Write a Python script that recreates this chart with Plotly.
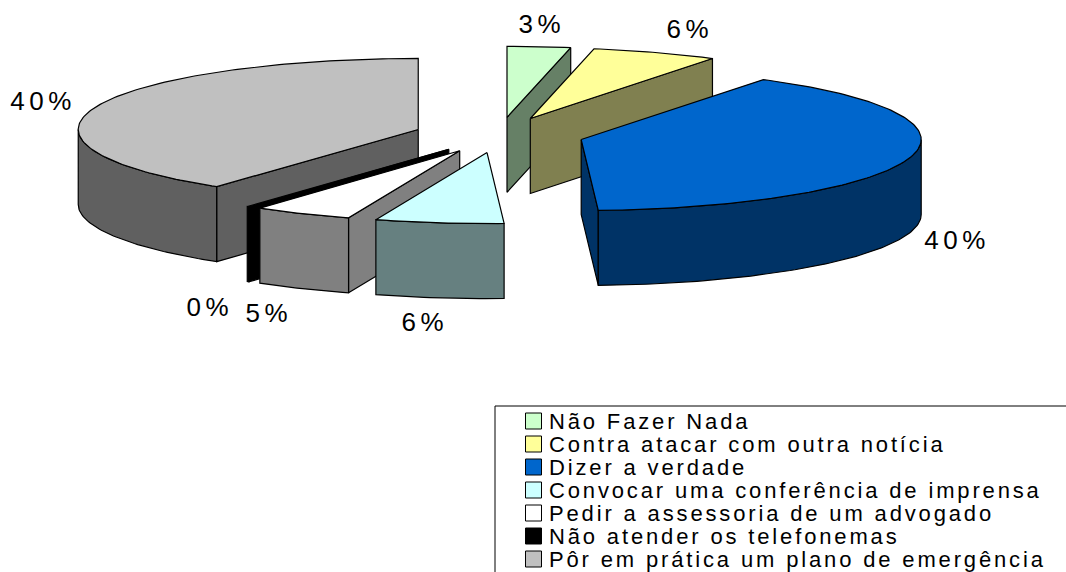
import math
import plotly.graph_objects as go

# data
categories = [
    "Não Fazer Nada",
    "Contra atacar com outra notícia",
    "Dizer a verdade",
    "Convocar uma conferência de imprensa",
    "Pedir a assessoria de um advogado",
    "Não atender os telefonemas",
    "Pôr em prática um plano de emergência",
]
values = [3.0, 6.0, 40.2, 6.1, 4.7, 0.1, 39.9]
top_colors = ["#CCFFCC", "#FFFF99", "#0066CC", "#CCFFFF", "#FFFFFF", "#000000", "#C0C0C0"]
side_colors = ["#668066", "#808050", "#003366", "#668080", "#808080", "#000000", "#606060"]

# layout of the fake 3D pie, in page pixels
CX, CY = 499, 135
RX, RY = 340, 71
DEPTH = 75
EXPLODE = 0.25
label_pos = [(542, 24), (690, 29), (957, 240), (425, 322), (269, 313), (210, 307), (43, 101)]
draw_order = [0, 1, 2, 6, 5, 4, 3]  # back to front


def rim(apex, deg, drop=0):
    a = math.radians(deg)
    return apex[0] + RX * math.sin(a), apex[1] - RY * math.cos(a) + drop


def arc(apex, d1, d2, drop=0):
    n = max(2, int(abs(d2 - d1)) + 1)
    return [rim(apex, d1 + (d2 - d1) * i / (n - 1), drop) for i in range(n)]


def add_poly(fig, pts, color, name):
    fig.add_trace(go.Scatter(
        x=[p[0] for p in pts] + [pts[0][0]],
        y=[p[1] for p in pts] + [pts[0][1]],
        mode="lines",
        fill="toself",
        fillcolor=color,
        line=dict(color="black", width=1.2),
        name=name,
        hoverinfo="name",
        showlegend=False,
    ))


# start/end angle of every slice, clockwise from 12 o'clock
total = sum(values)
angles = []
run = 0
for v in values:
    angles.append((run * 360 / total, (run + v) * 360 / total))
    run += v

fig = go.Figure()

for i in draw_order:
    d1, d2 = angles[i]
    mid = math.radians((d1 + d2) / 2)
    apex = (CX + EXPLODE * RX * math.sin(mid), CY - EXPLODE * RY * math.cos(mid))
    side = side_colors[i]

    # cut faces facing the viewer
    if math.sin(math.radians(d2)) > 0.01:
        p = rim(apex, d2)
        add_poly(fig, [apex, p, (p[0], p[1] + DEPTH), (apex[0], apex[1] + DEPTH)], side, categories[i])
    if math.sin(math.radians(d1)) < -0.01:
        p = rim(apex, d1)
        add_poly(fig, [apex, p, (p[0], p[1] + DEPTH), (apex[0], apex[1] + DEPTH)], side, categories[i])

    # outer wall, only the front half of the rim
    lo, hi = max(d1, 90), min(d2, 270)
    if lo < hi:
        add_poly(fig, arc(apex, lo, hi) + arc(apex, hi, lo, DEPTH), side, categories[i])

    # top
    add_poly(fig, [apex] + arc(apex, d1, d2), top_colors[i], categories[i])

annotations = []
for v, (lx, ly) in zip(values, label_pos):
    annotations.append(dict(
        x=lx, y=ly, text=f"{round(v)}%", showarrow=False, xanchor="center", yanchor="middle",
        font=dict(family="Liberation Sans", size=26, color="black"),
    ))

# legend, drawn by hand because plotly's swatches are too wide here
legend_y = [421 + 23 * k for k in range(len(categories))]
fig.add_trace(go.Scatter(
    x=[533.5] * len(categories),
    y=legend_y,
    mode="markers",
    marker=dict(symbol="square", size=16, color=top_colors, line=dict(color="black", width=1)),
    text=categories,
    hoverinfo="text",
    showlegend=False,
))
fig.add_trace(go.Scatter(
    x=[549] * len(categories),
    y=[ly + 2 for ly in legend_y],
    mode="text",
    text=categories,
    textposition="middle right",
    textfont=dict(family="Liberation Sans", size=22, color="black"),
    hoverinfo="skip",
    cliponaxis=False,
    showlegend=False,
))

fig.update_layout(
    width=1066,
    height=572,
    autosize=False,
    margin=dict(l=0, r=0, t=0, b=0),
    paper_bgcolor="white",
    plot_bgcolor="white",
    showlegend=False,
    xaxis=dict(range=[0, 1066], visible=False, fixedrange=True),
    yaxis=dict(range=[572, 0], visible=False, fixedrange=True),
    annotations=annotations,
    shapes=[dict(type="rect", xref="x", yref="y", x0=495, y0=406, x1=1080, y1=590,
                 line=dict(color="black", width=1), layer="below")],
)

# the page margin would push the figure out of the window, and the original
# text is tracked out, plotly has no option for that
page_fix = """
document.body.style.margin = '0';
document.querySelectorAll('.annotation-text').forEach(function (t) {
    t.style.letterSpacing = '4.5px';
});
document.querySelectorAll('.textpoint text').forEach(function (t) {
    t.style.letterSpacing = '2.85px';
});
"""
fig.write_html("out.html", post_script=page_fix, config={"displayModeBar": False})
